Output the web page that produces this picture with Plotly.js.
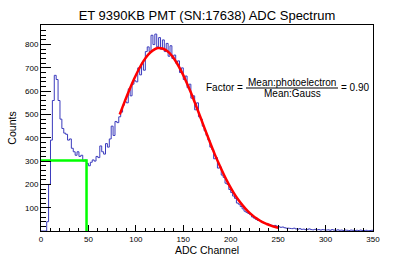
<!DOCTYPE html>
<html>
<head>
<meta charset="utf-8">
<script src="https://cdn.plot.ly/plotly-3.0.1.min.js"></script>
<style>html,body{margin:0;padding:0;background:#fff;}#chart{width:415px;height:257px;}</style>
</head>
<body>
<div id="chart"></div>
<script>
// Histogram: ADC channel bins (width 2), counts per bin
const binStart = 0;
const binWidth = 2;
const counts = [
  0,0,0,40,200,390,560,668,650,560,
  480,440,420,415,390,395,355,340,325,340,
  320,325,300,305,290,280,295,305,300,320,
  315,365,340,330,375,360,395,450,410,470,
  465,490,510,540,555,550,610,580,630,645,
  640,700,670,720,690,770,790,770,840,800,
  845,790,830,780,820,770,805,750,795,740,
  755,720,730,680,700,650,665,615,630,570,
  580,520,550,490,480,450,430,410,390,360,
  350,310,315,270,275,240,230,205,200,178,
  165,150,140,120,115,105,95,85,80,75,
  70,60,55,50,45,45,40,35,32,30,
  28,25,22,24,20,18,16,17,14,12,
  12,11,10,12,9,8,10,7,8,6,
  7,9,6,5,7,5,6,4,6,5,
  4,5,3,6,4,3,5,3,4,2,
  4,3,2,4,3,2,3,2,4,2,
  2,3,1,2,3
];
// Gaussian fit curve (red)
const fitX = [83,88,93,98,103,108,113,118,123,128,133,138,143,148,153,158,163,168,173,178,183,188,193,198,203,208,213,218,223,228,233,238,243,248,250];
const fitY = [500,553,604,651,693,729,757,775,785,783,772,752,722,685,642,594,542,489,435,382,331,284,240,200,165,134,108,85,67,52,39,30,22,16,14];
// Green marker lines (threshold)
const greenX = [0, 48, 48];
const greenY = [302, 302, 0];
// Axis ticks
const xTicks = [0,50,100,150,200,250,300,350];
const yTicks = [100,200,300,400,500,600,700,800];

const histX = [], histY = [];
for (let i = 0; i < counts.length; i++) {
  histX.push(binStart + i * binWidth);
  histY.push(counts[i]);
}
histX.push(binStart + counts.length * binWidth);
histY.push(counts[counts.length - 1]);

const FONT = 'Liberation Sans, Arial, Helvetica, sans-serif';

const traces = [
  {x: histX, y: histY, type: 'scatter', mode: 'lines', line: {shape: 'hv', color: '#3b3bbd', width: 1}, hoverinfo: 'skip'},
  {x: greenX, y: greenY, type: 'scatter', mode: 'lines', line: {color: '#00ff00', width: 2.5}, hoverinfo: 'skip'},
  {x: fitX, y: fitY, type: 'scatter', mode: 'lines', line: {color: '#ff0000', width: 2.5, shape: 'spline'}, hoverinfo: 'skip'}
];

const layout = {
  width: 415, height: 257,
  margin: {l: 41, r: 42, t: 25, b: 26, pad: 0},
  paper_bgcolor: '#fff', plot_bgcolor: '#fff',
  showlegend: false,
  font: {family: FONT, color: '#000', size: 8},
  title: {text: 'ET 9390KB PMT (SN:17638) ADC Spectrum', font: {family: FONT, size: 13, color: '#000'},
          x: 0.5, xanchor: 'center', xref: 'paper', y: 1 - 15/257, yref: 'container', yanchor: 'middle'},
  xaxis: {
    range: [0, 350], showgrid: false, zeroline: false,
    showline: true, linecolor: '#000', linewidth: 1, mirror: true,
    ticks: 'inside', ticklen: 6, tickwidth: 1, tickcolor: '#000',
    tickvals: xTicks, ticktext: xTicks.map(String),
    tickfont: {family: FONT, size: 8, color: '#000'},
    minor: {dtick: 10, ticks: 'inside', ticklen: 3, tickcolor: '#000', showgrid: false},
    title: {text: 'ADC Channel', font: {family: FONT, size: 10.5, color: '#000'}, standoff: 4}
  },
  yaxis: {
    range: [0, 884], showgrid: false, zeroline: false,
    showline: true, linecolor: '#000', linewidth: 1, mirror: true,
    ticks: 'inside', ticklen: 10, tickwidth: 1, tickcolor: '#000',
    tickvals: yTicks, ticktext: yTicks.map(String),
    tickfont: {family: FONT, size: 8, color: '#000'},
    minor: {dtick: 20, ticks: 'inside', ticklen: 5, tickcolor: '#000', showgrid: false},
    title: {text: 'Counts', font: {family: FONT, size: 10.5, color: '#000'}, standoff: 6}
  },
  shapes: [
    {type: 'line', xref: 'paper', yref: 'paper', x0: (246-41)/332, x1: (338-41)/332, y0: (231-88)/206, y1: (231-88)/206, line: {color: '#000', width: 1}}
  ],
  annotations: [
    {text: 'Factor =', xref: 'paper', yref: 'paper', x: (245-41)/332, y: (231-87)/206, xanchor: 'right', yanchor: 'middle', showarrow: false, font: {family: FONT, size: 10, color: '#000'}},
    {text: 'Mean:photoelectron', xref: 'paper', yref: 'paper', x: (292-41)/332, y: (231-82)/206, xanchor: 'center', yanchor: 'middle', showarrow: false, font: {family: FONT, size: 10, color: '#000'}},
    {text: 'Mean:Gauss', xref: 'paper', yref: 'paper', x: (292.5-41)/332, y: (231-94)/206, xanchor: 'center', yanchor: 'middle', showarrow: false, font: {family: FONT, size: 10, color: '#000'}},
    {text: '= 0.90', xref: 'paper', yref: 'paper', x: (339-41)/332, y: (231-87)/206, xanchor: 'left', yanchor: 'middle', showarrow: false, font: {family: FONT, size: 10, color: '#000'}}
  ]
};

Plotly.newPlot('chart', traces, layout, {staticPlot: true, displayModeBar: false});
</script>
</body>
</html>
